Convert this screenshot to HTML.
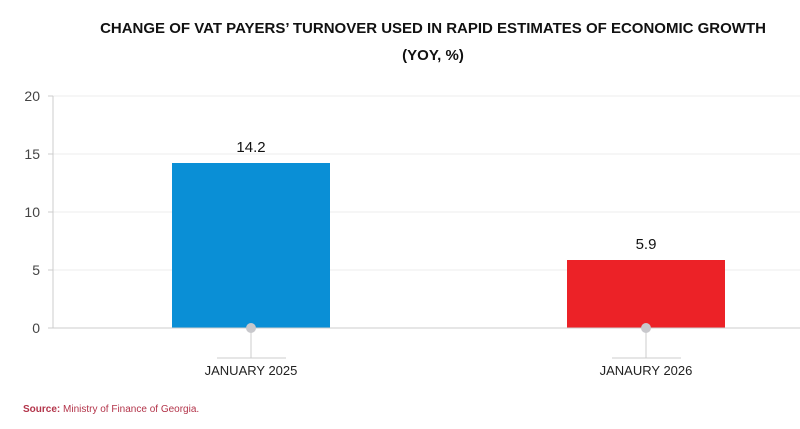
<!DOCTYPE html>
<html><head><style>
body{margin:0;background:#fff;width:800px;height:424px;overflow:hidden;font-family:"Liberation Sans",sans-serif;}
</style></head><body>
<svg width="800" height="424" xmlns="http://www.w3.org/2000/svg" font-family="Liberation Sans, sans-serif">
<text x="433" y="33" text-anchor="middle" font-size="15" font-weight="bold" fill="#111">CHANGE OF VAT PAYERS’ TURNOVER USED IN RAPID ESTIMATES OF ECONOMIC GROWTH</text>
<text x="433" y="60" text-anchor="middle" font-size="15" font-weight="bold" fill="#111">(YOY, %)</text>
<g stroke="#ececec" stroke-width="1">
<line x1="53" y1="96" x2="800" y2="96"/><line x1="53" y1="154" x2="800" y2="154"/>
<line x1="53" y1="212" x2="800" y2="212"/><line x1="53" y1="270" x2="800" y2="270"/>
</g>
<line x1="53" y1="96" x2="53" y2="328" stroke="#ccc"/>
<g stroke="#ccc"><line x1="48" y1="96" x2="53" y2="96"/><line x1="48" y1="154" x2="53" y2="154"/><line x1="48" y1="212" x2="53" y2="212"/><line x1="48" y1="270" x2="53" y2="270"/><line x1="48" y1="328" x2="53" y2="328"/></g>
<g font-size="14" fill="#444" text-anchor="end">
<text x="40" y="101">20</text><text x="40" y="159">15</text><text x="40" y="217">10</text><text x="40" y="275">5</text><text x="40" y="333">0</text>
</g>
<rect x="172" y="163" width="158" height="165" fill="#0a8fd6"/>
<rect x="567" y="260" width="158" height="68" fill="#ec2227"/>
<line x1="53" y1="328" x2="800" y2="328" stroke="#ccc"/>
<text x="251" y="152" text-anchor="middle" font-size="15" fill="#111">14.2</text>
<text x="646" y="249" text-anchor="middle" font-size="15" fill="#111">5.9</text>
<g stroke="#ccc">
<line x1="251" y1="328" x2="251" y2="358"/><line x1="217" y1="358" x2="286" y2="358"/>
<line x1="646" y1="328" x2="646" y2="358"/><line x1="612" y1="358" x2="681" y2="358"/>
</g>
<circle cx="251" cy="328" r="5" fill="#c8c8cc"/><circle cx="646" cy="328" r="5" fill="#c8c8cc"/>
<text x="251" y="375" text-anchor="middle" font-size="13" fill="#222">JANUARY 2025</text>
<text x="646" y="375" text-anchor="middle" font-size="13" fill="#222">JANAURY 2026</text>
<text x="23" y="412" font-size="10" fill="#b3344a"><tspan font-weight="bold">Source:</tspan> Ministry of Finance of Georgia.</text>
</svg>
</body></html>
